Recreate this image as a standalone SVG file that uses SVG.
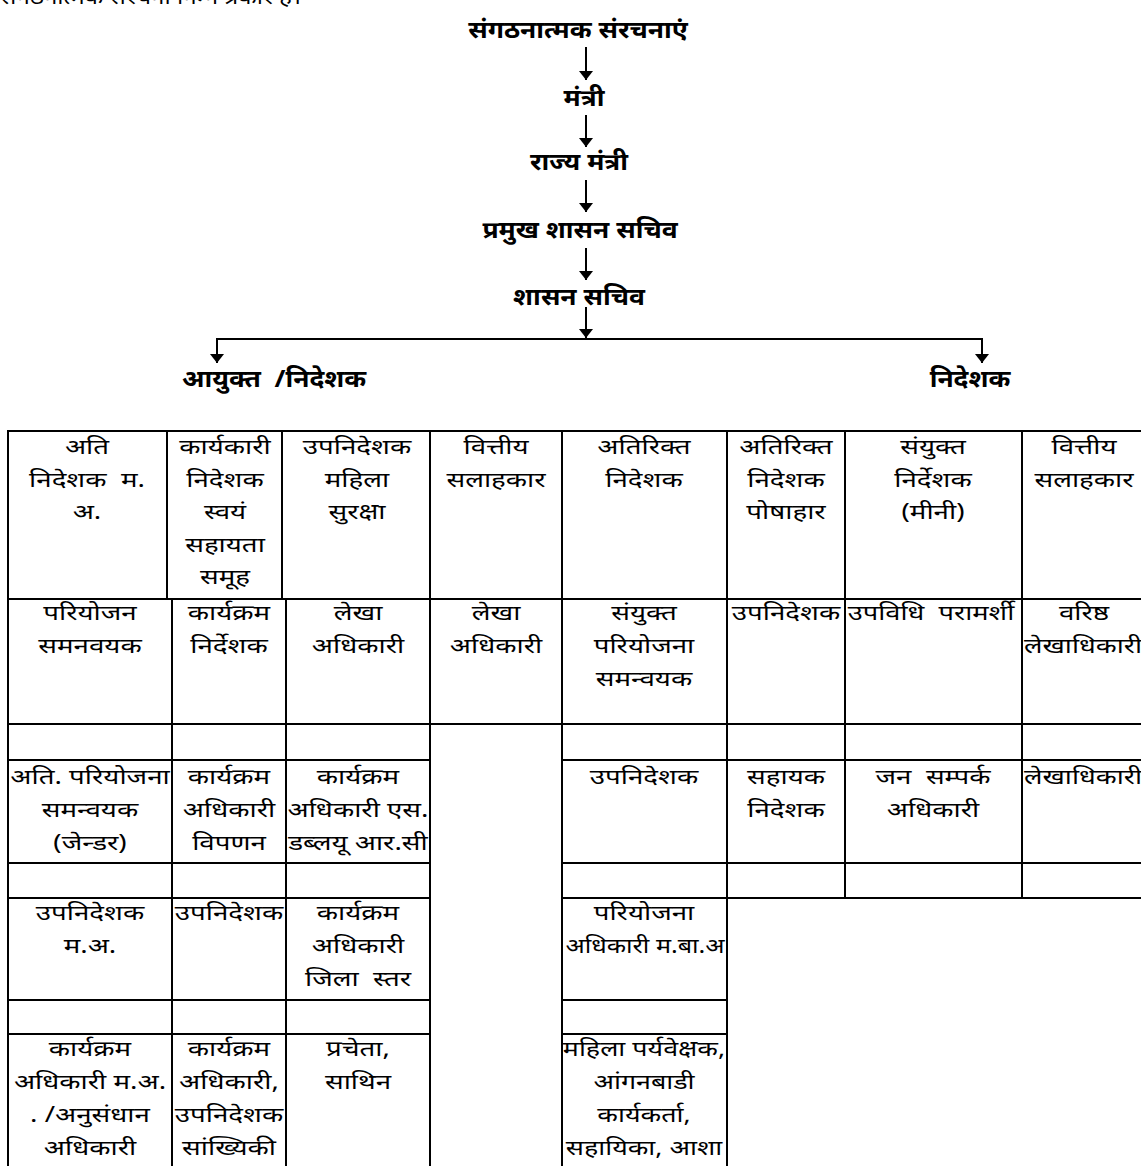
<svg xmlns="http://www.w3.org/2000/svg" width="1141" height="1166" viewBox="0 0 1141 1166">
<style>
  text { font-family: "Noto Sans", "Liberation Sans", sans-serif; fill: #000; }
  .t { font-size: 21px; text-anchor: middle; }
  .ts { font-size: 21px; text-anchor: start; }
  .h { font-size: 24px; font-weight: bold; text-anchor: middle; }
  .hs { font-size: 24px; font-weight: bold; text-anchor: start; }
  .c { fill: none; stroke: #000; stroke-width: 2; }
  .ln { stroke: #000; stroke-width: 2; fill: none; }
</style>
<defs>
  <marker id="ah" viewBox="0 0 9 14" refX="9" refY="7" markerWidth="9" markerHeight="14" markerUnits="userSpaceOnUse" orient="auto">
    <path d="M0,0 L9,7 L0,14 Z" fill="#000"/>
  </marker>
</defs>
<rect width="1141" height="1166" fill="#fff"/>

<g transform="translate(0 4) scale(1.15 1)"><text class="ts" x="0" y="0">संगठनात्मक संरचना निम्न प्रकार है।</text></g>

<g id="n-sangathan" transform="translate(578 38) scale(1.1 1)"><text class="h" x="0" y="0">संगठनात्मक संरचनाएं</text></g>
<g id="n-mantri" transform="translate(584 106) scale(1.1 1)"><text class="h" x="0" y="0">मंत्री</text></g>
<g id="n-rajya-mantri" transform="translate(579 170) scale(1.1 1)"><text class="h" x="0" y="0">राज्य मंत्री</text></g>
<g id="n-pramukh" transform="translate(580 238) scale(1.1 1)"><text class="h" x="0" y="0">प्रमुख शासन सचिव</text></g>
<g id="n-shasan" transform="translate(579 305) scale(1.1 1)"><text class="h" x="0" y="0">शासन सचिव</text></g>
<g id="n-ayukt" transform="translate(182 387) scale(1.1 1)"><text class="hs" x="0" y="0">आयुक्त&#160;&#160;/निदेशक</text></g>
<g id="n-nideshak" transform="translate(970 387) scale(1.1 1)"><text class="h" x="0" y="0">निदेशक</text></g>

<g id="connectors">
  <line class="ln" x1="586" y1="47" x2="586" y2="80" marker-end="url(#ah)"/>
  <line class="ln" x1="586" y1="115" x2="586" y2="147" marker-end="url(#ah)"/>
  <line class="ln" x1="586" y1="180" x2="586" y2="212" marker-end="url(#ah)"/>
  <line class="ln" x1="586" y1="248" x2="586" y2="280" marker-end="url(#ah)"/>
  <line class="ln" x1="586" y1="307" x2="586" y2="338" marker-end="url(#ah)"/>
  <polyline class="ln" points="217,350 217,339 982,339 982,350"/>
  <line class="ln" x1="217" y1="345" x2="217" y2="363" marker-end="url(#ah)"/>
  <line class="ln" x1="982" y1="345" x2="982" y2="363" marker-end="url(#ah)"/>
</g>

<!-- Row 1 -->
<g id="r1c1"><rect class="c" x="8" y="431" width="159" height="168"/><g transform="translate(87 0) scale(1.32 1)"><text class="t" x="0" y="454">अति</text><text class="t" x="0" y="487">निदेशक&#160;&#160;म.</text><text class="t" x="0" y="519">अ.</text></g></g>
<g id="r1c2"><rect class="c" x="167" y="431" width="115" height="168"/><g transform="translate(225 0) scale(1.32 1)"><text class="t" x="0" y="454">कार्यकारी</text><text class="t" x="0" y="487">निदेशक</text><text class="t" x="0" y="519">स्वयं</text><text class="t" x="0" y="552">सहायता</text><text class="t" x="0" y="584">समूह</text></g></g>
<g id="r1c3"><rect class="c" x="282" y="431" width="148" height="168"/><g transform="translate(357 0) scale(1.32 1)"><text class="t" x="0" y="454">उपनिदेशक</text><text class="t" x="0" y="487">महिला</text><text class="t" x="0" y="519">सुरक्षा</text></g></g>
<g id="r1c4"><rect class="c" x="430" y="431" width="132" height="168"/><g transform="translate(496 0) scale(1.32 1)"><text class="t" x="0" y="454">वित्तीय</text><text class="t" x="0" y="487">सलाहकार</text></g></g>
<g id="r1c5"><rect class="c" x="562" y="431" width="165" height="168"/><g transform="translate(644 0) scale(1.32 1)"><text class="t" x="0" y="454">अतिरिक्त</text><text class="t" x="0" y="487">निदेशक</text></g></g>
<g id="r1c6"><rect class="c" x="727" y="431" width="118" height="168"/><g transform="translate(786 0) scale(1.32 1)"><text class="t" x="0" y="454">अतिरिक्त</text><text class="t" x="0" y="487">निदेशक</text><text class="t" x="0" y="519">पोषाहार</text></g></g>
<g id="r1c7"><rect class="c" x="845" y="431" width="177" height="168"/><g transform="translate(933 0) scale(1.32 1)"><text class="t" x="0" y="454">संयुक्त</text><text class="t" x="0" y="487">निर्देशक</text><text class="t" x="0" y="519">(मीनी)</text></g></g>
<g id="r1c8"><rect class="c" x="1022" y="431" width="124" height="168"/><g transform="translate(1084 0) scale(1.32 1)"><text class="t" x="0" y="454">वित्तीय</text><text class="t" x="0" y="487">सलाहकार</text></g></g>

<!-- Row 2 -->
<g id="r2c1"><rect class="c" x="8" y="599" width="164" height="125"/><g transform="translate(90 0) scale(1.32 1)"><text class="t" x="0" y="620">परियोजन</text><text class="t" x="0" y="653">समनवयक</text></g></g>
<g id="r2c2"><rect class="c" x="172" y="599" width="114" height="125"/><g transform="translate(229 0) scale(1.32 1)"><text class="t" x="0" y="620">कार्यक्रम</text><text class="t" x="0" y="653">निर्देशक</text></g></g>
<g id="r2c3"><rect class="c" x="286" y="599" width="144" height="125"/><g transform="translate(358 0) scale(1.32 1)"><text class="t" x="0" y="620">लेखा</text><text class="t" x="0" y="653">अधिकारी</text></g></g>
<g id="r2c4"><rect class="c" x="430" y="599" width="132" height="125"/><g transform="translate(496 0) scale(1.32 1)"><text class="t" x="0" y="620">लेखा</text><text class="t" x="0" y="653">अधिकारी</text></g></g>
<g id="r2c5"><rect class="c" x="562" y="599" width="165" height="125"/><g transform="translate(644 0) scale(1.32 1)"><text class="t" x="0" y="620">संयुक्त</text><text class="t" x="0" y="653">परियोजना</text><text class="t" x="0" y="686">समन्वयक</text></g></g>
<g id="r2c6"><rect class="c" x="727" y="599" width="118" height="125"/><g transform="translate(786 0) scale(1.32 1)"><text class="t" x="0" y="620">उपनिदेशक</text></g></g>
<g id="r2c7"><rect class="c" x="845" y="599" width="177" height="125"/><g transform="translate(931 0) scale(1.3 1)"><text class="t" x="0" y="620">उपविधि&#160;&#160;परामर्शी</text></g></g>
<g id="r2c8"><rect class="c" x="1022" y="599" width="124" height="125"/><g transform="translate(1084 0) scale(1.32 1)"><text class="t" x="0" y="620">वरिष्ठ</text></g><g transform="translate(1024 0) scale(1.3 1)"><text class="ts" x="0" y="653">लेखाधिकारी</text></g></g>

<!-- Row 3 (empty) -->
<g id="r3">
  <rect class="c" x="8" y="724" width="164" height="36"/><rect class="c" x="172" y="724" width="114" height="36"/><rect class="c" x="286" y="724" width="144" height="36"/>
  <rect class="c" x="562" y="724" width="165" height="36"/><rect class="c" x="727" y="724" width="118" height="36"/><rect class="c" x="845" y="724" width="177" height="36"/><rect class="c" x="1022" y="724" width="124" height="36"/>
</g>

<!-- Row 4 -->
<g id="r4c1"><rect class="c" x="8" y="760" width="164" height="103"/><g transform="translate(90 0) scale(1.32 1)"><text class="t" x="0" y="784">अति. परियोजना</text><text class="t" x="0" y="817">समन्वयक</text><text class="t" x="0" y="850">(जेन्डर)</text></g></g>
<g id="r4c2"><rect class="c" x="172" y="760" width="114" height="103"/><g transform="translate(229 0) scale(1.32 1)"><text class="t" x="0" y="784">कार्यक्रम</text><text class="t" x="0" y="817">अधिकारी</text><text class="t" x="0" y="850">विपणन</text></g></g>
<g id="r4c3"><rect class="c" x="286" y="760" width="144" height="103"/><g transform="translate(358 0) scale(1.32 1)"><text class="t" x="0" y="784">कार्यक्रम</text><text class="t" x="0" y="817">अधिकारी एस.</text><text class="t" x="0" y="850">डब्लयू आर.सी</text></g></g>
<g id="r4c5"><rect class="c" x="562" y="760" width="165" height="103"/><g transform="translate(644 0) scale(1.32 1)"><text class="t" x="0" y="784">उपनिदेशक</text></g></g>
<g id="r4c6"><rect class="c" x="727" y="760" width="118" height="103"/><g transform="translate(786 0) scale(1.32 1)"><text class="t" x="0" y="784">सहायक</text><text class="t" x="0" y="817">निदेशक</text></g></g>
<g id="r4c7"><rect class="c" x="845" y="760" width="177" height="103"/><g transform="translate(933 0) scale(1.32 1)"><text class="t" x="0" y="784">जन&#160;&#160;सम्पर्क</text><text class="t" x="0" y="817">अधिकारी</text></g></g>
<g id="r4c8"><rect class="c" x="1022" y="760" width="124" height="103"/><g transform="translate(1024 0) scale(1.3 1)"><text class="ts" x="0" y="784">लेखाधिकारी</text></g></g>

<!-- Row 5 (empty) -->
<g id="r5">
  <rect class="c" x="8" y="863" width="164" height="35"/><rect class="c" x="172" y="863" width="114" height="35"/><rect class="c" x="286" y="863" width="144" height="35"/>
  <rect class="c" x="562" y="863" width="165" height="35"/><rect class="c" x="727" y="863" width="118" height="35"/><rect class="c" x="845" y="863" width="177" height="35"/><rect class="c" x="1022" y="863" width="124" height="35"/>
</g>

<!-- Row 6 -->
<g id="r6c1"><rect class="c" x="8" y="898" width="164" height="102"/><g transform="translate(90 0) scale(1.32 1)"><text class="t" x="0" y="920">उपनिदेशक</text><text class="t" x="0" y="953">म.अ.</text></g></g>
<g id="r6c2"><rect class="c" x="172" y="898" width="114" height="102"/><g transform="translate(229 0) scale(1.32 1)"><text class="t" x="0" y="920">उपनिदेशक</text></g></g>
<g id="r6c3"><rect class="c" x="286" y="898" width="144" height="102"/><g transform="translate(358 0) scale(1.32 1)"><text class="t" x="0" y="920">कार्यक्रम</text><text class="t" x="0" y="953">अधिकारी</text><text class="t" x="0" y="986">जिला&#160;&#160;स्तर</text></g></g>
<g id="r6c5"><rect class="c" x="562" y="898" width="165" height="102"/><g transform="translate(644 0) scale(1.32 1)"><text class="t" x="0" y="920">परियोजना</text></g><g transform="translate(645 0) scale(1.2 1)"><text class="t" x="0" y="953">अधिकारी म.बा.अ</text></g></g>

<!-- Row 7 (empty) -->
<g id="r7">
  <rect class="c" x="8" y="1000" width="164" height="34"/><rect class="c" x="172" y="1000" width="114" height="34"/><rect class="c" x="286" y="1000" width="144" height="34"/>
  <rect class="c" x="562" y="1000" width="165" height="34"/>
</g>

<!-- Row 8 -->
<g id="r8c1"><rect class="c" x="8" y="1034" width="164" height="140"/><g transform="translate(90 0) scale(1.32 1)"><text class="t" x="0" y="1056">कार्यक्रम</text><text class="t" x="0" y="1089">अधिकारी म.अ.</text><text class="t" x="0" y="1122">. /अनुसंधान</text><text class="t" x="0" y="1155">अधिकारी</text></g></g>
<g id="r8c2"><rect class="c" x="172" y="1034" width="114" height="140"/><g transform="translate(229 0) scale(1.32 1)"><text class="t" x="0" y="1056">कार्यक्रम</text><text class="t" x="0" y="1089">अधिकारी,</text><text class="t" x="0" y="1122">उपनिदेशक</text><text class="t" x="0" y="1155">सांख्यिकी</text></g></g>
<g id="r8c3"><rect class="c" x="286" y="1034" width="144" height="140"/><g transform="translate(358 0) scale(1.32 1)"><text class="t" x="0" y="1056">प्रचेता,</text><text class="t" x="0" y="1089">साथिन</text></g></g>
<g id="r8c5"><rect class="c" x="562" y="1034" width="165" height="140"/><g transform="translate(644 0) scale(1.28 1)"><text class="t" x="0" y="1056">महिला पर्यवेक्षक,</text><text class="t" x="0" y="1089">आंगनबाडी</text><text class="t" x="0" y="1122">कार्यकर्ता,</text><text class="t" x="0" y="1155">सहायिका, आशा</text></g></g>
</svg>
